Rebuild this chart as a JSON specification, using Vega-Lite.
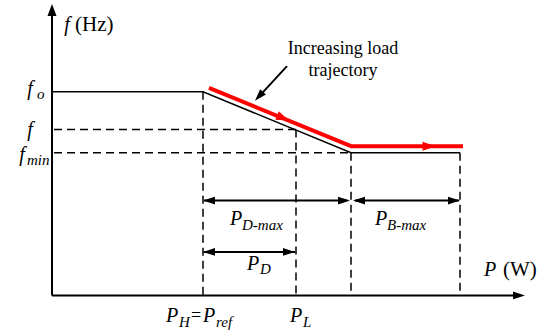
{
  "$schema": "https://vega.github.io/schema/vega-lite/v6.json",
  "width": 557,
  "height": 330,
  "padding": 0,
  "autosize": {"type": "fit", "contains": "padding"},
  "background": "white",
  "config": {"view": {"stroke": null}},
  "datasets": {
    "axes": [
      {"x": 0, "y": 0, "x2": 0, "y2": 5.7},
      {"x": 0, "y": 0, "x2": 9.24, "y2": 0}
    ],
    "profile": [
      {"x": 0, "y": 4.12},
      {"x": 3.02, "y": 4.12},
      {"x": 5.98, "y": 2.89},
      {"x": 8.16, "y": 2.89}
    ],
    "guides": [
      {"x": 0.04, "y": 3.36, "x2": 4.88, "y2": 3.36},
      {"x": 0.04, "y": 2.89, "x2": 5.98, "y2": 2.89},
      {"x": 3.02, "y": 4.12, "x2": 3.02, "y2": 0},
      {"x": 4.88, "y": 3.36, "x2": 4.88, "y2": 0},
      {"x": 5.98, "y": 2.89, "x2": 5.98, "y2": 0},
      {"x": 8.16, "y": 2.89, "x2": 8.16, "y2": 0}
    ],
    "trajectory": [
      {"x": 3.14, "y": 4.2},
      {"x": 5.98, "y": 3.02},
      {"x": 8.22, "y": 3.02}
    ],
    "spans": [
      {"x": 3.04, "y": 1.92, "x2": 5.9, "y2": 1.92},
      {"x": 6.06, "y": 1.92, "x2": 8.14, "y2": 1.92},
      {"x": 3.04, "y": 0.88, "x2": 4.86, "y2": 0.88},
      {"x": 4.7, "y": 4.64, "x2": 4.16, "y2": 4.05}
    ],
    "headsRight": [
      {"x": 9.34, "y": 0},
      {"x": 5.84, "y": 1.92},
      {"x": 8.04, "y": 1.92},
      {"x": 4.74, "y": 0.88}
    ],
    "headsLeft": [
      {"x": 3.14, "y": 1.92},
      {"x": 6.14, "y": 1.92},
      {"x": 3.14, "y": 0.88}
    ],
    "headsUp": [{"x": 0, "y": 5.78}],
    "headsPointer": [{"x": 4.14, "y": 4.03}],
    "headsSlope": [{"x": 4.62, "y": 3.59}],
    "headsFlat": [{"x": 7.54, "y": 3.02}],
    "symbols": [
      {"x": -0.44, "y": 4.18, "text": "f"},
      {"x": -0.44, "y": 3.34, "text": "f"},
      {"x": -0.6, "y": 2.84, "text": "f"},
      {"x": 0.3, "y": 5.48, "text": "f"},
      {"x": 8.76, "y": 0.52, "text": "P"},
      {"x": 3.68, "y": 1.54, "text": "P"},
      {"x": 6.58, "y": 1.54, "text": "P"},
      {"x": 4.02, "y": 0.64, "text": "P"},
      {"x": 2.4, "y": -0.42, "text": "P"},
      {"x": 3.14, "y": -0.42, "text": "P"},
      {"x": 4.88, "y": -0.42, "text": "P"}
    ],
    "subscripts": [
      {"x": -0.3, "y": 4.08, "text": "o"},
      {"x": -0.5, "y": 2.74, "text": "min"},
      {"x": 3.8, "y": 1.42, "text": "D-max"},
      {"x": 6.7, "y": 1.42, "text": "B-max"},
      {"x": 4.16, "y": 0.54, "text": "D"},
      {"x": 2.54, "y": -0.54, "text": "H"},
      {"x": 3.28, "y": -0.54, "text": "ref"},
      {"x": 5.02, "y": -0.54, "text": "L"}
    ],
    "units": [
      {"x": 0.46, "y": 5.48, "text": "(Hz)"},
      {"x": 9.02, "y": 0.52, "text": "(W)"}
    ],
    "notes": [
      {"x": 2.88, "y": -0.42, "text": "="},
      {"x": 5.82, "y": 4.98, "text": "Increasing load"},
      {"x": 5.82, "y": 4.54, "text": "trajectory"}
    ]
  },
  "encoding": {
    "x": {"field": "x", "type": "quantitative", "axis": null,
          "scale": {"domain": [-1.04, 10.1], "nice": false, "zero": false}},
    "y": {"field": "y", "type": "quantitative", "axis": null,
          "scale": {"domain": [-0.62, 5.98], "nice": false, "zero": false}}
  },
  "layer": [
    {
      "data": {"name": "guides"},
      "mark": {"type": "rule", "color": "black", "strokeWidth": 1.5, "strokeDash": [8, 5]},
      "encoding": {"x2": {"field": "x2"}, "y2": {"field": "y2"}}
    },
    {
      "data": {"name": "axes"},
      "mark": {"type": "rule", "color": "black", "strokeWidth": 2},
      "encoding": {"x2": {"field": "x2"}, "y2": {"field": "y2"}}
    },
    {
      "data": {"name": "profile"},
      "mark": {"type": "line", "color": "black", "strokeWidth": 1.5}
    },
    {
      "data": {"name": "trajectory"},
      "mark": {"type": "line", "color": "#ff0000", "strokeWidth": 4, "strokeJoin": "round"}
    },
    {
      "data": {"name": "spans"},
      "mark": {"type": "rule", "color": "black", "strokeWidth": 2},
      "encoding": {"x2": {"field": "x2"}, "y2": {"field": "y2"}}
    },
    {
      "data": {"name": "headsRight"},
      "mark": {"type": "point", "shape": "M1,0L-1,-0.65L-1,0.65Z", "filled": true, "size": 144, "color": "black", "opacity": 1, "angle": 0}
    },
    {
      "data": {"name": "headsLeft"},
      "mark": {"type": "point", "shape": "M1,0L-1,-0.65L-1,0.65Z", "filled": true, "size": 144, "color": "black", "opacity": 1, "angle": 180}
    },
    {
      "data": {"name": "headsUp"},
      "mark": {"type": "point", "shape": "M1,0L-1,-0.75L-1,0.75Z", "filled": true, "size": 144, "color": "black", "opacity": 1, "angle": 270}
    },
    {
      "data": {"name": "headsPointer"},
      "mark": {"type": "point", "shape": "M1,0L-1,-0.65L-1,0.65Z", "filled": true, "size": 144, "color": "black", "opacity": 1, "angle": 132.4}
    },
    {
      "data": {"name": "headsSlope"},
      "mark": {"type": "point", "shape": "M1,0L-1,-0.7L-1,0.7Z", "filled": true, "size": 169, "color": "#ff0000", "opacity": 1, "angle": 22.6}
    },
    {
      "data": {"name": "headsFlat"},
      "mark": {"type": "point", "shape": "M1,0L-1,-0.7L-1,0.7Z", "filled": true, "size": 169, "color": "#ff0000", "opacity": 1, "angle": 0}
    },
    {
      "data": {"name": "symbols"},
      "mark": {"type": "text", "font": "Liberation Serif", "fontStyle": "italic", "fontSize": 20, "align": "center", "baseline": "middle", "color": "black"},
      "encoding": {"text": {"field": "text"}}
    },
    {
      "data": {"name": "subscripts"},
      "mark": {"type": "text", "font": "Liberation Serif", "fontStyle": "italic", "fontSize": 15, "align": "left", "baseline": "middle", "color": "black"},
      "encoding": {"text": {"field": "text"}}
    },
    {
      "data": {"name": "units"},
      "mark": {"type": "text", "font": "Liberation Serif", "fontSize": 21, "align": "left", "baseline": "middle", "color": "black"},
      "encoding": {"text": {"field": "text"}}
    },
    {
      "data": {"name": "notes"},
      "mark": {"type": "text", "font": "Liberation Serif", "fontSize": 18, "align": "center", "baseline": "middle", "color": "black"},
      "encoding": {"text": {"field": "text"}}
    }
  ]
}
